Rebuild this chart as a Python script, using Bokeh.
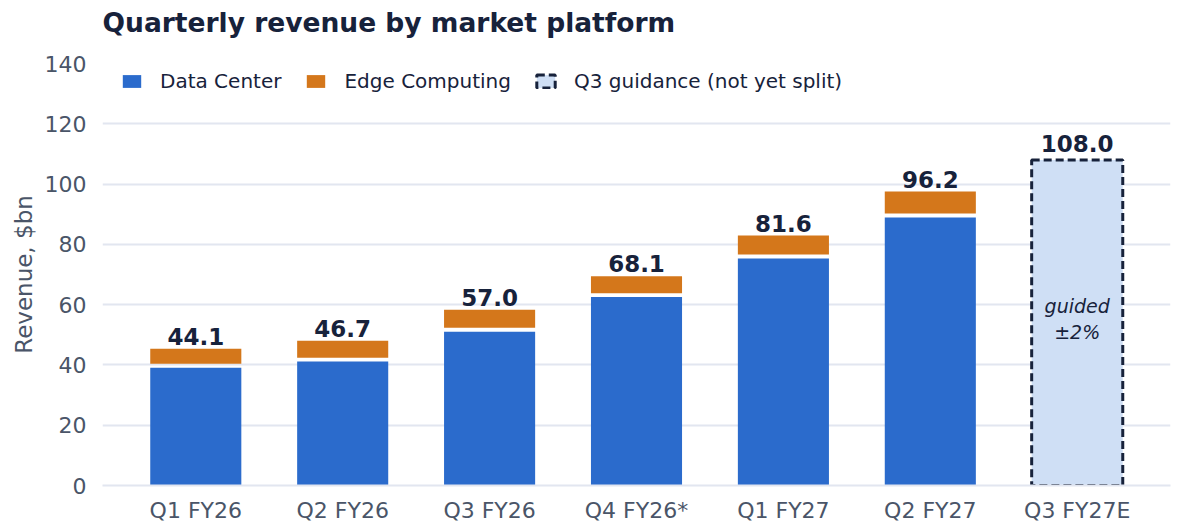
from bokeh.plotting import figure
from bokeh.models import ColumnDataSource, Legend, LegendItem, FixedTicker, Title
from bokeh.core.properties import value
from bokeh.embed import file_html
from bokeh.resources import INLINE

# ---- data ----
quarters = ["Q1 FY26", "Q2 FY26", "Q3 FY26", "Q4 FY26*", "Q1 FY27", "Q2 FY27"]
data_center = [39.1, 41.1, 51.0, 62.5, 75.3, 88.9]
edge_computing = [5.0, 5.6, 6.0, 5.6, 6.3, 7.3]
guidance_label = "Q3 FY27E"
guidance_value = 108.0
y_ticks = [0, 20, 40, 60, 80, 100, 120, 140]
chart_title = "Quarterly revenue by market platform"

# ---- style ----
FONT = "DejaVu Sans"
BLUE = "#2b6bcc"
ORANGE = "#d4771b"
GUIDE_FILL = "#cfdff5"
NAVY = "#17223b"
SLATE = "#4a5568"
GRID = "#e2e6f0"
GAP = 1.3
BAR_W = 0.62

all_labels = quarters + [guidance_label]
xs = list(range(len(quarters)))
gx = len(quarters)

edge_bottom = [d + GAP for d in data_center]
edge_top = [d + GAP + e for d, e in zip(data_center, edge_computing)]
totals = [round(d + e, 1) for d, e in zip(data_center, edge_computing)]

src = ColumnDataSource(dict(x=xs, dc=data_center, eb=edge_bottom, et=edge_top,
                            tot=totals, lab=[f"{t:.1f}" for t in totals]))

p = figure(frame_width=1068, frame_height=422, x_range=(-0.635, gx + 0.635),
           y_range=(0, 140), output_backend="svg", toolbar_location=None, title=None,
           min_border_left=102, min_border_right=5, min_border_top=63, min_border_bottom=10)

# spacer between frame and title, then the title itself further out
spacer = Title(text=" ", text_font_size="1px", standoff=23)
p.add_layout(spacer, "above")
main_title = Title(text=chart_title, text_font=FONT, text_font_size="26.5px",
                   text_font_style="bold", text_color=NAVY, align="left", offset=0, standoff=0)
p.add_layout(main_title, "above")

r_dc = p.vbar(x="x", top="dc", bottom=0, width=BAR_W, source=src, color=BLUE, line_color=None)
r_edge = p.vbar(x="x", top="et", bottom="eb", width=BAR_W, source=src, color=ORANGE, line_color=None)
r_guide = p.vbar(x=[gx], top=[guidance_value], bottom=0, width=BAR_W, fill_color=GUIDE_FILL,
                 line_color=NAVY, line_width=3, line_dash="8 4")

p.text(x="x", y="tot", text="lab", source=src, text_align="center", text_baseline="bottom",
       y_offset=-8, text_font=value(FONT), text_font_style="bold", text_font_size="23px",
       text_color=NAVY)
p.text(x=[gx], y=[guidance_value], text=[f"{guidance_value:.1f}"], text_align="center",
       text_baseline="bottom", y_offset=-8, text_font=value(FONT), text_font_style="bold",
       text_font_size="23px", text_color=NAVY)
p.text(x=[gx], y=[guidance_value / 2], text=["guided\n±2%"], text_align="center",
       text_baseline="middle", text_font=value(FONT), text_font_style="italic",
       text_font_size="19px", text_color=NAVY, text_line_height=1.2, y_offset=-4)

legend = Legend(items=[LegendItem(label="Data Center", renderers=[r_dc]),
                       LegendItem(label="Edge Computing", renderers=[r_edge]),
                       LegendItem(label="Q3 guidance (not yet split)", renderers=[r_guide])],
                location=(18, 392), orientation="horizontal",
                label_text_font=FONT, label_text_font_size="20px", label_text_color=NAVY,
                glyph_width=23, glyph_height=16, label_standoff=17, spacing=23, padding=0,
                margin=0, border_line_color=None, background_fill_alpha=0)
p.add_layout(legend)

p.xaxis.ticker = FixedTicker(ticks=list(range(len(all_labels))))
p.xaxis.major_label_overrides = {i: s for i, s in enumerate(all_labels)}
p.yaxis.ticker = FixedTicker(ticks=y_ticks)
p.yaxis.axis_label = "Revenue, $bn"

for ax in (p.xaxis, p.yaxis):
    ax.major_label_text_font = FONT
    ax.major_label_text_font_size = "22px"
    ax.major_label_text_color = SLATE
    ax.major_tick_line_color = None
    ax.minor_tick_line_color = None
    ax.axis_label_text_font = FONT
    ax.axis_label_text_font_size = "23px"
    ax.axis_label_text_font_style = "normal"
    ax.axis_label_text_color = SLATE
p.yaxis.axis_line_color = None
p.xaxis.axis_line_color = GRID
p.xaxis.axis_line_width = 2
p.xaxis.major_label_standoff = 6
p.yaxis.major_label_standoff = 10

p.xgrid.grid_line_color = None
p.ygrid.grid_line_color = GRID
p.ygrid.grid_line_width = 2
p.outline_line_color = None
p.background_fill_color = "white"
p.border_fill_color = "white"

open("out.html", "w").write(file_html(p, INLINE))
